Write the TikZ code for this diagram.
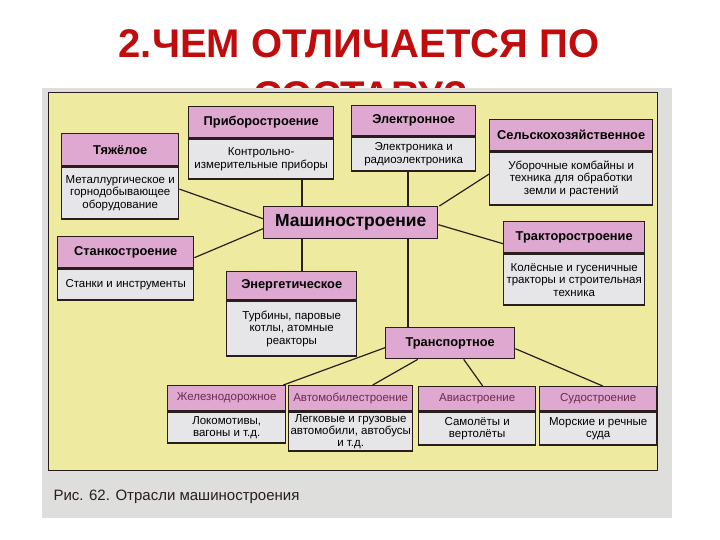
\documentclass[tikz,border=0pt]{standalone}
\usepackage{fontspec}
\setmainfont{Liberation Sans}
\definecolor{titlered}{RGB}{192,12,12}
\definecolor{panel}{RGB}{238,234,160}
\definecolor{head}{RGB}{222,168,208}
\definecolor{body}{RGB}{230,230,232}
\definecolor{frame}{RGB}{222,222,220}
\definecolor{edge}{RGB}{40,30,30}
\definecolor{lowhead}{RGB}{112,40,78}
\tikzset{
  sz/.style 2 args={minimum width=#1pt, minimum height=#2pt},
  hdr/.style={draw=edge, line width=1.4pt, fill=head, inner sep=0pt, anchor=north west,
    align=center, font=\fontsize{12.8}{14}\selectfont\bfseries},
  lowhdr/.style={hdr, text=lowhead, font=\fontsize{11.5}{13}\selectfont},
  bdy/.style={draw=edge, line width=1.4pt, fill=body, inner sep=0pt, anchor=north west,
    align=center, font=\fontsize{11.5}{12.5}\selectfont},
  link/.style={draw=edge, line width=1.2pt},
}
\begin{document}
\begin{tikzpicture}[x=1pt,y=-1pt]
  \useasboundingbox (0,0) rectangle (720,540);
  \fill[white] (0,0) rectangle (720,540);
  % title, second line runs under the figure
  \node[anchor=base, text=titlered, font=\fontsize{40}{48}\selectfont\bfseries] (t1) at (359,58) {2.ЧЕМ ОТЛИЧАЕТСЯ ПО};
  \node[anchor=base, text=titlered, font=\fontsize{40}{48}\selectfont\bfseries] (t2) at (361,110) {СОСТАВУ?};
  % the figure
  \fill[frame] (42,88) rectangle (672,518);
  \draw[draw=edge, line width=0.8pt, fill=panel] (48,92) rectangle (657,470);
  \node[anchor=base west, text=edge, font=\fontsize{15}{17}\selectfont] (cap) at (50,500) {Рис. 62. Отрасли машиностроения};

  \node[hdr, sz={174}{32}, font=\fontsize{17.5}{19}\selectfont\bfseries] (mash) at (263,206) {Машиностроение};

  \node[hdr, sz={117}{32}] (tyH) at (61,133) {Тяжёлое};
  \node[bdy, sz={117}{52}] (tyB) at (tyH.south west) {Металлургическое и\\горнодобывающее\\оборудование};

  \node[hdr, sz={145}{31}] (prH) at (188,106) {Приборостроение};
  \node[bdy, sz={145}{40}] (prB) at (prH.south west) {Контрольно-\\измерительные приборы};

  \node[hdr, sz={124}{30}] (elH) at (351,105) {Электронное};
  \node[bdy, sz={124}{34}] (elB) at (elH.south west) {Электроника и\\радиоэлектроника};

  \node[hdr, sz={163}{31}] (seH) at (489,119) {Сельскохозяйственное};
  \node[bdy, sz={163}{53}] (seB) at (seH.south west) {Уборочные комбайны и\\техника для обработки\\земли и растений};

  \node[hdr, sz={136}{31}] (stH) at (57,236) {Станкостроение};
  \node[bdy, sz={136}{31}] (stB) at (stH.south west) {Станки и инструменты};

  \node[hdr, sz={130}{28}] (enH) at (226,271) {Энергетическое};
  \node[bdy, sz={130}{55}] (enB) at (enH.south west) {Турбины, паровые\\котлы, атомные\\реакторы};

  \node[hdr, sz={141}{31}] (trH) at (503,221) {Тракторостроение};
  \node[bdy, sz={141}{51}] (trB) at (trH.south west) {Колёсные и гусеничные\\тракторы и строительная\\техника};

  \node[hdr, sz={129}{31}] (tpH) at (385,327) {Транспортное};

  \node[lowhdr, sz={118}{25}] (zdH) at (167,385) {Железнодорожное};
  \node[bdy, sz={118}{31}] (zdB) at (zdH.south west) {Локомотивы,\\вагоны и т.д.};

  \node[lowhdr, sz={124}{25}] (avH) at (288,385) {Автомобилестроение};
  \node[bdy, sz={124}{39}, font=\fontsize{11.5}{12}\selectfont] (avB) at (avH.south west) {Легковые и грузовые\\автомобили, автобусы\\и т.д.};

  \node[lowhdr, sz={117}{24}] (aiH) at (418,386) {Авиастроение};
  \node[bdy, sz={117}{33}] (aiB) at (aiH.south west) {Самолёты и\\вертолёты};

  \node[lowhdr, sz={117}{24}] (suH) at (539,386) {Судостроение};
  \node[bdy, sz={117}{33}] (suB) at (suH.south west) {Морские и речные\\суда};

  % links
  \coordinate (cl) at (302,0);
  \coordinate (cr) at (408,0);
  \draw[link] (prB.south -| cl) -- (mash.north -| cl);
  \draw[link] (mash.south -| cl) -- (enH.north -| cl);
  \draw[link] (elB.south -| cr) -- (mash.north -| cr);
  \draw[link] (mash.south -| cr) -- (tpH.north -| cr);
  \draw[link] ([yshift=4pt]tyB.east) -- ([yshift=4pt]mash.west);
  \draw[link] ([yshift=-5.5pt]stH.east) -- ([yshift=-6pt]mash.west);
  \draw[link] ([yshift=4.5pt]seB.west) -- ([xshift=1pt]mash.north east);
  \draw[link] ([yshift=-2pt]mash.east) -- ([yshift=-6.5pt]trH.west);
  \draw[link] ([yshift=-4.5pt]tpH.west) -- ([xshift=-3pt]zdH.north east);
  \draw[link] ([xshift=-32.5pt]tpH.south) -- ([xshift=22pt]avH.north);
  \draw[link] ([xshift=13.5pt]tpH.south) -- ([xshift=5.5pt]aiH.north);
  \draw[link] ([yshift=-5.5pt]tpH.east) -- ([xshift=4.5pt]suH.north);
\end{tikzpicture}
\end{document}
